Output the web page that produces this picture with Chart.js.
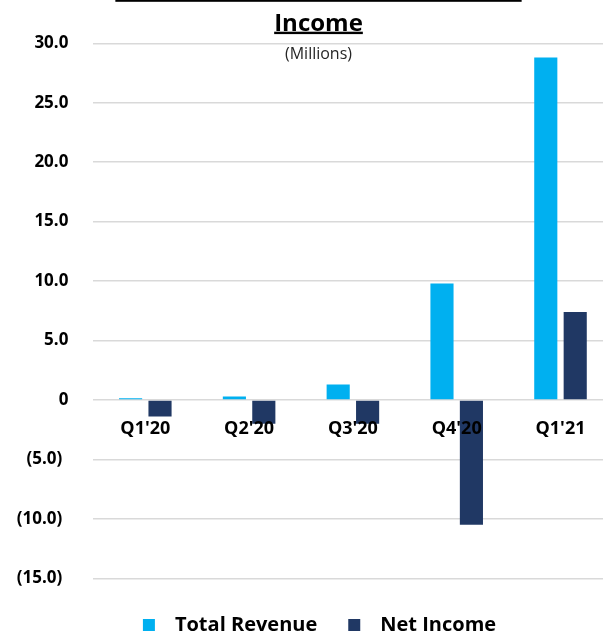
<!DOCTYPE html>
<html>
<head>
<meta charset="utf-8">
<script src="https://cdn.jsdelivr.net/npm/chart.js@4.4.1/dist/chart.umd.min.js"></script>
<style>
  html, body { margin: 0; padding: 0; overflow: hidden; background: #fff; }
  #wrap { position: relative; width: 603px; height: 633px; overflow: hidden; }
  #wrap canvas { position: absolute; left: 0; top: 0; }
</style>
</head>
<body>
<div id="wrap"><canvas id="chart" width="639" height="645"></canvas></div>
<script>
// Quarterly figures, in millions
const quarters = ["Q1'20", "Q2'20", "Q3'20", "Q4'20", "Q1'21"];
const totalRevenue = [0.15, 0.3, 1.3, 9.8, 28.8];
const netIncome = [-1.4, -2.0, -2.0, -10.5, 7.4];

// Value axis range and step
const yMin = -15;
const yMax = 30;
const yStep = 5;

const titleLines = ['Historical Total Revenues and Net', 'Income'];
const subtitle = '(Millions)';

const FONT = "'Open Sans', 'DejaVu Sans', sans-serif";

// Accounting style: negatives in parentheses, zero as a bare 0
function formatValue(v) {
  if (v === 0) return '0';
  if (v < 0) return '(' + Math.abs(v).toFixed(1) + ')\u0020\u200a';
  return v.toFixed(1);
}

// Underlined two-line heading with a units note beneath
const headerPlugin = {
  id: 'header',
  afterDraw(chart) {
    const ctx = chart.ctx;
    const cx = chart.width / 2 - 1;
    ctx.save();
    ctx.fillStyle = '#000';
    ctx.textAlign = 'center';
    ctx.textBaseline = 'alphabetic';
    ctx.font = 'bold 24px ' + FONT;
    const baselines = [-1.6, 30.7];
    titleLines.forEach((line, i) => {
      const w = ctx.measureText(line).width;
      ctx.fillText(line, cx, baselines[i]);
      ctx.fillRect(cx - w / 2, baselines[i] + 1, w, 2.4);
    });
    ctx.font = '16px ' + FONT;
    ctx.fillStyle = '#262626';
    ctx.textBaseline = 'middle';
    ctx.fillText(subtitle, cx, 54);
    ctx.restore();
  }
};

new Chart(document.getElementById('chart'), {
  type: 'bar',
  data: {
    labels: quarters,
    datasets: [
      {
        label: 'Total Revenue',
        data: totalRevenue,
        backgroundColor: '#00B0F0',
        borderWidth: 0
      },
      {
        label: 'Net Income',
        data: netIncome,
        backgroundColor: '#203864',
        borderWidth: 0
      }
    ]
  },
  options: {
    responsive: false,
    devicePixelRatio: 1,
    animation: false,
    layout: { padding: { top: 43.3, left: 0, right: 0, bottom: 0 } },
    datasets: {
      bar: { categoryPercentage: 0.567, barPercentage: 0.786 }
    },
    plugins: {
      title: { display: false },
      tooltip: { enabled: false },
      legend: {
        position: 'bottom',
        labels: {
          boxWidth: 12,
          boxHeight: 12,
          padding: 31,
          color: '#000',
          font: { family: FONT, size: 20, weight: 'bold' },
          generateLabels(chart) {
            return Chart.defaults.plugins.legend.labels.generateLabels(chart)
              .map(item => Object.assign({}, item, { text: '\u2002' + item.text }));
          }
        }
      }
    },
    scales: {
      x: {
        type: 'category',
        position: { y: 0 },
        grid: { display: false, drawTicks: false },
        border: { display: false },
        ticks: {
          z: 1,
          color: '#000',
          padding: 18,
          maxRotation: 0,
          font: { family: FONT, size: 18, weight: 'bold' }
        }
      },
      y: {
        min: yMin,
        max: yMax,
        position: 'left',
        afterFit(scale) { scale.width = 93.4; },
        grid: { color: '#d9d9d9', lineWidth: 1.5, drawTicks: false },
        border: { display: false },
        ticks: {
          stepSize: yStep,
          padding: 25,
          color: '#000',
          font: { family: FONT, size: 17, weight: 'bold' },
          callback: v => formatValue(v)
        }
      },
      // spacer axes that reserve room to the right and below the plot
      yRightPad: {
        type: 'linear',
        position: 'right',
        afterFit(scale) { scale.width = 26.6; },
        grid: { display: false, drawTicks: false },
        border: { display: false },
        ticks: { display: false }
      },
      xBottomPad: {
        type: 'category',
        position: 'bottom',
        afterFit(scale) { scale.height = 5.7; },
        grid: { display: false, drawTicks: false },
        border: { display: false },
        ticks: { display: false }
      }
    }
  },
  plugins: [headerPlugin]
});
</script>
</body>
</html>
